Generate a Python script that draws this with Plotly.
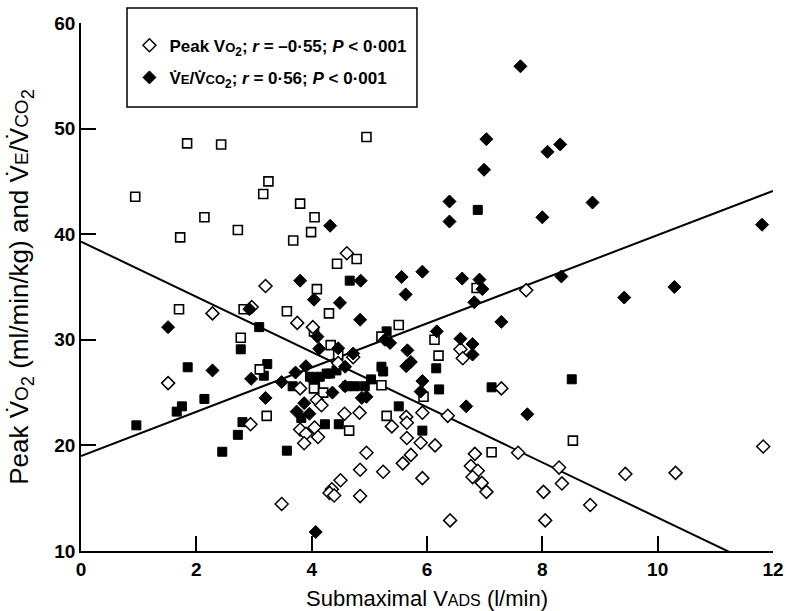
import numpy as np
import plotly.graph_objects as go

# ---- data ----
# Peak VO2 (open diamonds)
peak_x = [3.20, 4.61, 7.72, 11.83, 8.29, 8.34, 8.02, 9.44, 10.31, 8.05, 8.83,
          2.28, 2.96, 3.75, 4.02, 1.51, 3.80, 2.94, 3.80, 3.90, 3.87, 4.05, 4.11,
          6.58, 6.62, 7.29, 6.36, 5.92, 5.64, 5.65, 5.39, 5.65, 5.89, 6.14, 7.58,
          6.83, 4.95, 5.72, 5.58, 4.84, 5.24, 6.76, 6.88, 6.79, 6.95, 7.03, 5.92,
          4.50, 4.35, 4.31, 4.39, 4.84, 3.48, 4.46, 4.72, 4.09, 4.17, 4.57, 4.83, 6.40]
peak_y = [35.1, 38.2, 34.7, 19.9, 17.9, 16.4, 15.6, 17.3, 17.4, 12.9, 14.35,
          32.5, 33.1, 31.6, 31.2, 25.9, 25.4, 22.0, 21.5, 21.1, 20.2, 21.7, 20.8,
          29.1, 28.25, 25.4, 22.8, 23.1, 22.7, 22.15, 21.8, 20.7, 20.25, 20.0, 19.3,
          19.2, 19.3, 19.1, 18.3, 17.7, 17.5, 18.05, 17.6, 17.0, 16.45, 15.6, 16.9,
          16.7, 15.85, 15.5, 15.25, 15.2, 14.45, 27.8, 28.35, 24.3, 23.8, 23.0, 23.1, 12.9]

# VE/VCO2 (filled diamonds)
vent_x = [7.62, 7.03, 6.99, 6.39, 6.39, 8.09, 8.31, 8.87, 8.00, 11.81, 4.32,
          3.80, 4.85, 5.56, 5.92, 5.63, 6.61, 6.91, 6.96, 8.33, 10.29, 9.42, 7.74,
          4.04, 4.49, 6.82, 7.29, 4.84, 2.92, 1.51, 4.10, 4.13, 2.28, 2.95, 3.48,
          3.72, 3.90, 3.20, 3.74, 3.87, 3.96, 5.27, 5.36, 6.17, 6.58, 6.79, 6.79,
          5.66, 5.72, 5.64, 5.92, 5.89, 6.68, 4.46, 4.72, 4.58, 4.58, 4.87, 4.95,
          4.36, 4.07]
vent_y = [55.9, 49.0, 46.1, 43.1, 41.2, 47.8, 48.5, 43.0, 41.6, 40.9, 40.8,
          35.6, 35.6, 35.95, 36.45, 34.3, 35.8, 35.7, 34.8, 36.0, 35.0, 34.0, 22.95,
          33.8, 33.5, 33.55, 31.7, 31.9, 32.9, 31.2, 30.3, 29.15, 27.1, 26.3, 26.0,
          26.9, 27.5, 24.5, 23.2, 24.0, 23.0, 30.0, 29.7, 30.8, 30.1, 29.6, 28.6,
          29.0, 27.9, 27.5, 26.1, 25.1, 23.7, 29.2, 28.7, 27.45, 25.6, 24.5, 24.6,
          25.0, 11.8]

# second group, open squares
osq_x = [1.84, 2.43, 3.25, 3.16, 0.94, 3.80, 4.05, 2.14, 2.72, 1.72, 3.99, 3.68,
         4.09, 4.95, 4.78, 4.44, 6.86, 8.53, 1.70, 2.82, 3.57, 4.04, 2.77, 3.10,
         3.22, 4.30, 5.51, 5.21, 6.13, 6.20, 5.94, 5.30, 7.12, 4.33, 4.46, 5.21,
         4.04, 4.20, 4.65]
osq_y = [48.6, 48.5, 45.0, 43.8, 43.55, 42.9, 41.6, 41.6, 40.4, 39.7, 40.2, 39.4,
         34.8, 49.2, 37.65, 37.2, 34.9, 20.45, 32.9, 32.9, 32.7, 30.8, 30.2, 27.2,
         22.8, 32.5, 31.4, 30.3, 30.0, 28.5, 24.6, 22.8, 19.35, 29.5, 28.6, 25.7,
         25.4, 25.0, 21.4]

# second group, filled squares
fsq_x = [6.88, 4.66, 8.51, 3.09, 2.77, 1.85, 3.23, 3.17, 4.02, 3.67, 2.14, 1.75,
         1.66, 0.96, 3.82, 2.80, 2.72, 2.45, 3.57, 5.30, 6.16, 6.21, 7.12, 5.51,
         5.92, 3.97, 4.06, 4.32, 4.43, 4.61, 4.75, 4.92, 5.03, 5.21, 5.24, 4.23,
         4.47, 4.14, 4.26]
fsq_y = [42.3, 35.6, 26.26, 31.2, 29.1, 27.4, 27.7, 26.6, 26.4, 25.6, 24.4, 23.7,
         23.2, 21.9, 22.6, 22.2, 21.0, 19.4, 19.5, 30.8, 27.3, 25.3, 25.5, 23.7,
         21.4, 26.5, 25.9, 26.8, 27.1, 25.6, 25.6, 25.6, 26.25, 27.45, 27.0, 22.0,
         22.0, 26.5, 26.8]

# regression lines (intercept, slope)
peak_fit = (39.3, -2.614)
vent_fit = (19.0, 2.092)
fit_x = [0, 12]

x_ticks = [0, 2, 4, 6, 8, 10, 12]
y_ticks = [10, 20, 30, 40, 50, 60]

FONT = "Liberation Sans, Arial, sans-serif"
dotV = "V\u0307"


def sm(t, px):
    return "<span style='font-size:%dpx'>%s</span>" % (px, t)


fig = go.Figure()

fx = np.array(fit_x, dtype=float)
for b0, b1 in (peak_fit, vent_fit):
    fig.add_trace(go.Scatter(x=fx, y=b0 + b1 * fx, mode="lines",
                             line=dict(color="black", width=2),
                             showlegend=False, hoverinfo="skip"))

fig.add_trace(go.Scatter(x=fsq_x, y=fsq_y, mode="markers", showlegend=False,
                         marker=dict(symbol="square", size=9, color="black",
                                     line=dict(color="black", width=1))))
fig.add_trace(go.Scatter(x=osq_x, y=osq_y, mode="markers", showlegend=False,
                         marker=dict(symbol="square", size=9, color="white",
                                     line=dict(color="black", width=1.6))))
fig.add_trace(go.Scatter(
    x=peak_x, y=peak_y, mode="markers", legendgroup="a",
    name="<b>Peak V" + sm("O", 13) + "<sub>2</sub>; <i>r</i> = \u20130\u00b755; <i>P</i> &lt; 0\u00b7001</b>",
    marker=dict(symbol="diamond", size=10, color="white",
                line=dict(color="black", width=1.5))))
fig.add_trace(go.Scatter(
    x=vent_x, y=vent_y, mode="markers", legendgroup="b",
    name="<b>" + dotV + sm("E", 13) + "/" + dotV + sm("CO", 13) +
         "<sub>2</sub>; <i>r</i> = 0\u00b756; <i>P</i> &lt; 0\u00b7001</b>",
    marker=dict(symbol="diamond", size=10, color="black",
                line=dict(color="black", width=1))))

axis_common = dict(showgrid=False, zeroline=False, showline=True, linecolor="black",
                   linewidth=1.5, ticks="inside", ticklen=15, tickwidth=1.5,
                   tickcolor="black", mirror=False,
                   tickfont=dict(family=FONT, size=19, color="black"))

fig.update_xaxes(range=[0, 12], tickvals=x_ticks,
                 ticktext=["<b>%d</b>" % v for v in x_ticks],
                 title=dict(text="Submaximal V" + sm("ADS", 16) + " (l/min)",
                            font=dict(family=FONT, size=22, color="black"), standoff=12),
                 **axis_common)
fig.update_yaxes(range=[10, 60], tickvals=y_ticks,
                 ticktext=["<b>%d</b>" % v for v in y_ticks],
                 title=dict(text="Peak " + dotV + sm("O", 19) + "<sub>2</sub> (ml/min/kg) and " +
                                 dotV + sm("E", 19) + "/" + dotV + sm("CO", 19) + "<sub>2</sub>",
                            font=dict(family=FONT, size=26, color="black"), standoff=18),
                 **axis_common)

# legend frame
fig.add_shape(type="rect", xref="paper", yref="paper",
              x0=0.0665, x1=0.4855, y0=0.841, y1=1.0284,
              line=dict(color="black", width=1.5), fillcolor="white", layer="above")

fig.update_layout(
    width=786, height=611,
    margin=dict(l=81, r=13, t=23, b=60, autoexpand=False),
    plot_bgcolor="white", paper_bgcolor="white",
    legend=dict(x=0.0700, y=0.991, xanchor="left", yanchor="top",
                borderwidth=0, bgcolor="rgba(0,0,0,0)",
                tracegroupgap=7,
                font=dict(family=FONT, size=17, color="black")),
)

fig.write_html("out.html", config={"displayModeBar": False},
               post_script="document.body.style.margin='0px';document.body.style.overflow='hidden';")
